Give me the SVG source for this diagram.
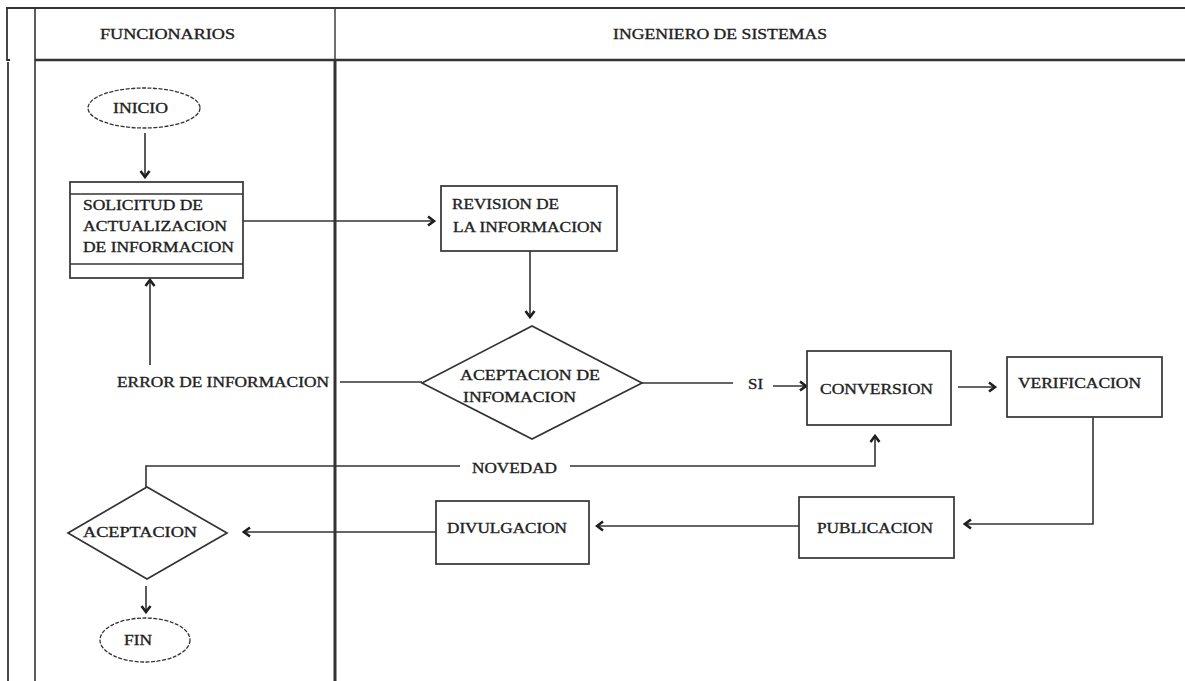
<svg xmlns="http://www.w3.org/2000/svg" width="1185" height="681" viewBox="0 0 1185 681">
<style>
  text { font-family: "Liberation Serif", "Times New Roman", serif; font-size: 15px; fill: #1e1e1e; stroke: #1e1e1e; stroke-width: 0.35; }
  .frame { stroke: #333; fill: none; }
  .shape { stroke: #333; stroke-width: 1.7; fill: #fff; }
  .term { stroke: #333; stroke-width: 1.3; fill: #fff; stroke-dasharray: 4 1.5; }
  .conn { stroke: #333; stroke-width: 1.6; fill: none; }
  .arr { marker-end: url(#ah); }
</style>
<defs>
  <marker id="ah" viewBox="0 0 12 12" refX="10" refY="6" markerWidth="12" markerHeight="12" markerUnits="userSpaceOnUse" orient="auto">
    <path d="M4,1.5 L10,6 L4,10.5" fill="none" stroke="#1e1e1e" stroke-width="2.6"/>
  </marker>
</defs>
<rect width="1185" height="681" fill="#fff"/>

<g id="lanes">
  <line class="frame" x1="6" y1="8" x2="1185" y2="8" stroke-width="2"/>
  <path class="frame" d="M7,8 V60 H10" stroke-width="1.8"/>
  <line class="frame" x1="8" y1="62" x2="8" y2="681" stroke-width="1.8"/>
  <line class="frame" x1="35" y1="8" x2="35" y2="681" stroke-width="1.6"/>
  <line class="frame" x1="335" y1="8" x2="335" y2="60" stroke-width="1.4"/>
  <line class="frame" x1="335" y1="60" x2="335" y2="681" stroke-width="3"/>
  <line class="frame" x1="35" y1="60" x2="1185" y2="60" stroke-width="2.6"/>
  <text x="100" y="39" textLength="135" lengthAdjust="spacingAndGlyphs">FUNCIONARIOS</text>
  <text x="613" y="39" textLength="214" lengthAdjust="spacingAndGlyphs">INGENIERO DE SISTEMAS</text>
</g>

<g id="connectors">
  <line class="conn arr" x1="145" y1="133" x2="145" y2="177"/>
  <line class="conn arr" x1="243" y1="221" x2="434" y2="221"/>
  <line class="conn arr" x1="530" y1="251" x2="530" y2="317"/>
  <line class="conn" x1="340" y1="382" x2="422" y2="382"/>
  <line class="conn arr" x1="150" y1="365" x2="150" y2="280"/>
  <line class="conn" x1="642" y1="383" x2="733" y2="383"/>
  <line class="conn arr" x1="773" y1="386" x2="806" y2="386"/>
  <line class="conn arr" x1="958" y1="387" x2="995" y2="387"/>
  <path class="conn arr" d="M1093,417 V524 H965"/>
  <line class="conn arr" x1="799" y1="526" x2="597" y2="526"/>
  <line class="conn arr" x1="436" y1="532" x2="244" y2="532"/>
  <path class="conn" d="M146,487 V466 H460"/>
  <path class="conn arr" d="M570,466 H875 V436"/>
  <line class="conn arr" x1="146" y1="586" x2="146" y2="612"/>
  <text x="472" y="473" textLength="85" lengthAdjust="spacingAndGlyphs">NOVEDAD</text>
  <text x="748" y="389" textLength="15" lengthAdjust="spacingAndGlyphs">SI</text>
  <text x="117" y="387" textLength="212" lengthAdjust="spacingAndGlyphs">ERROR DE INFORMACION</text>
</g>

<g id="inicio">
  <ellipse class="term" cx="144" cy="108" rx="56" ry="20"/>
  <text x="113" y="113" textLength="55" lengthAdjust="spacingAndGlyphs">INICIO</text>
</g>

<g id="solicitud">
  <rect class="shape" x="70" y="182" width="173" height="96"/>
  <line class="conn" x1="70" y1="194" x2="243" y2="194"/>
  <line class="conn" x1="70" y1="264" x2="243" y2="264"/>
  <text x="83" y="210" textLength="120" lengthAdjust="spacingAndGlyphs">SOLICITUD DE</text>
  <text x="83" y="231" textLength="144" lengthAdjust="spacingAndGlyphs">ACTUALIZACION</text>
  <text x="83" y="252" textLength="151" lengthAdjust="spacingAndGlyphs">DE INFORMACION</text>
</g>

<g id="revision">
  <rect class="shape" x="441" y="186" width="176" height="65"/>
  <text x="452" y="209" textLength="107" lengthAdjust="spacingAndGlyphs">REVISION DE</text>
  <text x="453" y="232" textLength="149" lengthAdjust="spacingAndGlyphs">LA INFORMACION</text>
</g>

<g id="aceptacion-info">
  <polygon class="shape" points="422,383 532,326 642,383 532,439"/>
  <text x="460" y="380" textLength="140" lengthAdjust="spacingAndGlyphs">ACEPTACION DE</text>
  <text x="463" y="402" textLength="113" lengthAdjust="spacingAndGlyphs">INFOMACION</text>
</g>

<g id="conversion">
  <rect class="shape" x="807" y="351" width="144" height="74"/>
  <text x="820" y="394" textLength="113" lengthAdjust="spacingAndGlyphs">CONVERSION</text>
</g>

<g id="verificacion">
  <rect class="shape" x="1007" y="357" width="155" height="60"/>
  <text x="1018" y="388" textLength="123" lengthAdjust="spacingAndGlyphs">VERIFICACION</text>
</g>

<g id="publicacion">
  <rect class="shape" x="799" y="497" width="155" height="61"/>
  <text x="817" y="533" textLength="116" lengthAdjust="spacingAndGlyphs">PUBLICACION</text>
</g>

<g id="divulgacion">
  <rect class="shape" x="436" y="501" width="153" height="63"/>
  <text x="447" y="533" textLength="120" lengthAdjust="spacingAndGlyphs">DIVULGACION</text>
</g>

<g id="aceptacion">
  <polygon class="shape" points="68,533 147,487 227,533 147,579"/>
  <text x="83" y="537" textLength="114" lengthAdjust="spacingAndGlyphs">ACEPTACION</text>
</g>

<g id="fin">
  <ellipse class="term" cx="145" cy="640" rx="45" ry="22"/>
  <text x="124" y="645" textLength="28" lengthAdjust="spacingAndGlyphs">FIN</text>
</g>
</svg>
